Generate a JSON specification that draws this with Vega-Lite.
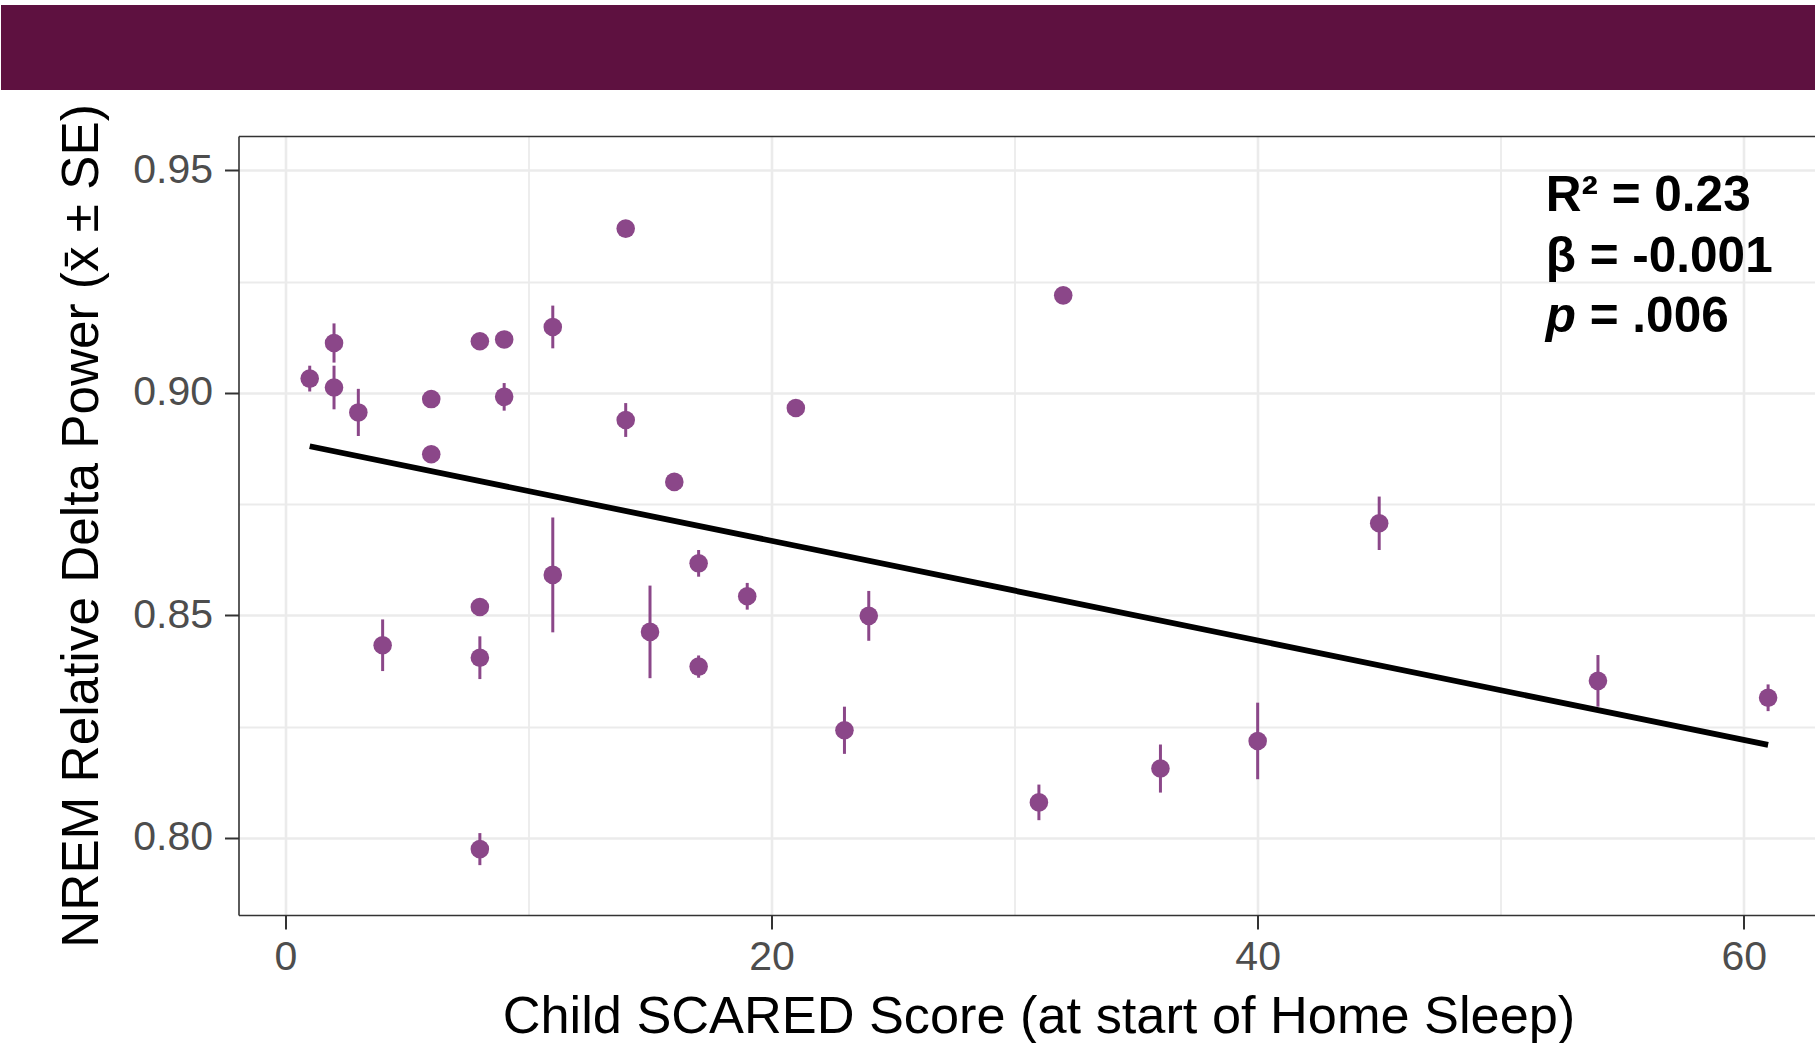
{
  "$schema": "https://vega.github.io/schema/vega-lite/v6.json",
  "background": "white",
  "padding": {"top": 4, "left": -42.5, "right": 0, "bottom": 0},
  "datasets": {
    "children": [
      {"score": 1, "power": 0.9032, "lo": 0.9003, "hi": 0.9061},
      {"score": 2, "power": 0.9112, "lo": 0.9068, "hi": 0.9156},
      {"score": 2, "power": 0.9012, "lo": 0.8963, "hi": 0.9061},
      {"score": 3, "power": 0.8956, "lo": 0.8903, "hi": 0.9009},
      {"score": 4, "power": 0.8433, "lo": 0.8375, "hi": 0.8491},
      {"score": 6, "power": 0.8986, "lo": 0.8966, "hi": 0.9006},
      {"score": 6, "power": 0.8862, "lo": 0.8852, "hi": 0.8872},
      {"score": 8, "power": 0.9116, "lo": 0.9106, "hi": 0.9126},
      {"score": 8, "power": 0.8519, "lo": 0.8507, "hi": 0.8531},
      {"score": 8, "power": 0.8405, "lo": 0.8357, "hi": 0.8453},
      {"score": 8, "power": 0.7975, "lo": 0.7939, "hi": 0.8011},
      {"score": 9, "power": 0.912, "lo": 0.911, "hi": 0.913},
      {"score": 9, "power": 0.8991, "lo": 0.896, "hi": 0.9022},
      {"score": 11, "power": 0.9148, "lo": 0.91, "hi": 0.9196},
      {"score": 11, "power": 0.8591, "lo": 0.8462, "hi": 0.872},
      {"score": 14, "power": 0.9369, "lo": 0.9359, "hi": 0.9379},
      {"score": 14, "power": 0.8939, "lo": 0.8901, "hi": 0.8977},
      {"score": 15, "power": 0.8463, "lo": 0.8359, "hi": 0.8567},
      {"score": 16, "power": 0.88, "lo": 0.878, "hi": 0.882},
      {"score": 17, "power": 0.8617, "lo": 0.8587, "hi": 0.8647},
      {"score": 17, "power": 0.8385, "lo": 0.836, "hi": 0.841},
      {"score": 19, "power": 0.8543, "lo": 0.8513, "hi": 0.8573},
      {"score": 21, "power": 0.8966, "lo": 0.8951, "hi": 0.8981},
      {"score": 23, "power": 0.8242, "lo": 0.8189, "hi": 0.8295},
      {"score": 24, "power": 0.8499, "lo": 0.8443, "hi": 0.8555},
      {"score": 31, "power": 0.808, "lo": 0.804, "hi": 0.812},
      {"score": 32, "power": 0.9219, "lo": 0.9209, "hi": 0.9229},
      {"score": 36, "power": 0.8156, "lo": 0.8102, "hi": 0.821},
      {"score": 40, "power": 0.8218, "lo": 0.8132, "hi": 0.8304},
      {"score": 45, "power": 0.8707, "lo": 0.8647, "hi": 0.8767},
      {"score": 54, "power": 0.8353, "lo": 0.8295, "hi": 0.8411},
      {"score": 61, "power": 0.8315, "lo": 0.8285, "hi": 0.8345}
    ],
    "fit": [
      {"score": 1, "power": 0.888},
      {"score": 61, "power": 0.8209}
    ],
    "stats": [
      {"score": 51.85, "power": 0.9409, "label": "R² = 0.23"},
      {"score": 51.85, "power": 0.9272, "label": "β = -0.001"}
    ],
    "pvalue": [
      {"score": 51.85, "power": 0.9137, "symbol": "p", "label": "= .006"}
    ]
  },
  "concat": [
    {
      "width": 1577,
      "height": 85,
      "view": {"fill": "#5E1140", "stroke": null},
      "data": {"values": [{"band": "header"}]},
      "mark": {"type": "rect", "color": "#5E1140"},
      "encoding": {
        "y": {
          "field": "band", "type": "nominal",
          "scale": {"type": "band", "paddingInner": 0, "paddingOuter": 0},
          "axis": {
            "orient": "left",
            "labels": false, "domain": false, "title": null, "grid": false,
            "ticks": true, "tickSize": 238, "tickWidth": 85, "tickCap": "butt",
            "tickColor": "#5E1140"
          }
        }
      }
    },
    {
      "width": 1577,
      "height": 779,
      "view": {"stroke": null},
      "resolve": {"axis": {"x": "independent", "y": "independent"}},
      "layer": [
        {
          "data": {"name": "children"},
          "mark": {"type": "rule", "color": "#8B4789", "strokeWidth": 3},
          "encoding": {
            "x": {
              "field": "score", "type": "quantitative",
              "scale": {"domain": [-1.93, 62.95], "nice": false, "zero": false},
              "axis": {
                "orient": "bottom",
                "values": [0, 20, 40, 60],
                "grid": true, "gridColor": "#EBEBEB", "gridWidth": 2.6,
                "domain": true, "domainColor": "#333333", "domainWidth": 1.6,
                "ticks": true, "tickColor": "#333333", "tickWidth": 2, "tickSize": 14,
                "labelFontSize": 41, "labelColor": "#4D4D4D", "labelPadding": 8,
                "labelFlush": false,
                "title": "Child SCARED Score (at start of Home Sleep)",
                "titleFontSize": 52.3, "titleColor": "black", "titleFontWeight": "normal",
                "titleX": 800, "titleY": 117, "titleBaseline": "alphabetic", "titleAlign": "center"
              }
            },
            "y": {
              "field": "lo", "type": "quantitative",
              "scale": {"domain": [0.7827, 0.9577], "nice": false, "zero": false},
              "axis": {
                "orient": "left",
                "values": [0.8, 0.85, 0.9, 0.95],
                "format": ".2f",
                "grid": true, "gridColor": "#EBEBEB", "gridWidth": 2.6,
                "domain": true, "domainColor": "#333333", "domainWidth": 1.6,
                "ticks": true, "tickColor": "#333333", "tickWidth": 2, "tickSize": 14,
                "labelFontSize": 41, "labelColor": "#4D4D4D", "labelPadding": 12,
                "labelFlush": false,
                "title": ["", "NREM Relative Delta Power (x\u0304 ± SE)"],
                "titleFontSize": 51.3, "titleColor": "black", "titleFontWeight": "normal",
                "titleAngle": -90, "titleBaseline": "top", "titleAlign": "center",
                "titleLineHeight": 55, "titleX": -237, "titleY": 389.5
              }
            },
            "y2": {"field": "hi"}
          }
        },
        {
          "data": {"name": "children"},
          "mark": {"type": "circle", "color": "#8B4789", "size": 345, "opacity": 1},
          "encoding": {
            "x": {
              "field": "score", "type": "quantitative",
              "scale": {"domain": [-1.93, 62.95], "nice": false, "zero": false},
              "axis": {
                "orient": "top",
                "values": [10, 30, 50],
                "grid": true, "gridColor": "#EBEBEB", "gridWidth": 1.8,
                "domain": true, "domainColor": "#333333", "domainWidth": 1.6,
                "ticks": false, "labels": false, "title": null
              }
            },
            "y": {
              "field": "power", "type": "quantitative",
              "scale": {"domain": [0.7827, 0.9577], "nice": false, "zero": false},
              "axis": null
            }
          }
        },
        {
          "data": {"name": "fit"},
          "mark": {"type": "line", "color": "black", "strokeWidth": 5.8},
          "encoding": {
            "x": {
              "field": "score", "type": "quantitative",
              "scale": {"domain": [-1.93, 62.95], "nice": false, "zero": false},
              "axis": null
            },
            "y": {
              "field": "power", "type": "quantitative",
              "scale": {"domain": [0.7827, 0.9577], "nice": false, "zero": false},
              "axis": {
                "orient": "right",
                "values": [0.825, 0.875, 0.925],
                "grid": true, "gridColor": "#EBEBEB", "gridWidth": 1.8,
                "domain": false, "ticks": false, "labels": false, "title": null
              }
            }
          }
        },
        {
          "data": {"name": "stats"},
          "mark": {"type": "text", "align": "left", "baseline": "alphabetic", "fontSize": 49.5, "fontWeight": "bold", "color": "black"},
          "encoding": {
            "x": {"field": "score", "type": "quantitative", "scale": {"domain": [-1.93, 62.95], "nice": false, "zero": false}, "axis": null},
            "y": {"field": "power", "type": "quantitative", "scale": {"domain": [0.7827, 0.9577], "nice": false, "zero": false}, "axis": null},
            "text": {"field": "label"}
          }
        },
        {
          "data": {"name": "pvalue"},
          "mark": {"type": "text", "align": "left", "baseline": "alphabetic", "fontSize": 49.5, "fontWeight": "bold", "fontStyle": "italic", "color": "black"},
          "encoding": {
            "x": {"field": "score", "type": "quantitative", "scale": {"domain": [-1.93, 62.95], "nice": false, "zero": false}, "axis": null},
            "y": {"field": "power", "type": "quantitative", "scale": {"domain": [0.7827, 0.9577], "nice": false, "zero": false}, "axis": null},
            "text": {"field": "symbol"}
          }
        },
        {
          "data": {"name": "pvalue"},
          "mark": {"type": "text", "align": "left", "baseline": "alphabetic", "fontSize": 49.5, "fontWeight": "bold", "color": "black", "dx": 44},
          "encoding": {
            "x": {"field": "score", "type": "quantitative", "scale": {"domain": [-1.93, 62.95], "nice": false, "zero": false}, "axis": null},
            "y": {"field": "power", "type": "quantitative", "scale": {"domain": [0.7827, 0.9577], "nice": false, "zero": false}, "axis": null},
            "text": {"field": "label"}
          }
        }
      ]
    }
  ],
  "columns": 1,
  "spacing": 13,
  "align": "none",
  "bounds": "full",
  "config": {
    "font": "Liberation Sans",
    "view": {"stroke": null},
    "axis": {"labelFont": "Liberation Sans", "titleFont": "Liberation Sans"},
    "text": {"font": "Liberation Sans"}
  }
}
